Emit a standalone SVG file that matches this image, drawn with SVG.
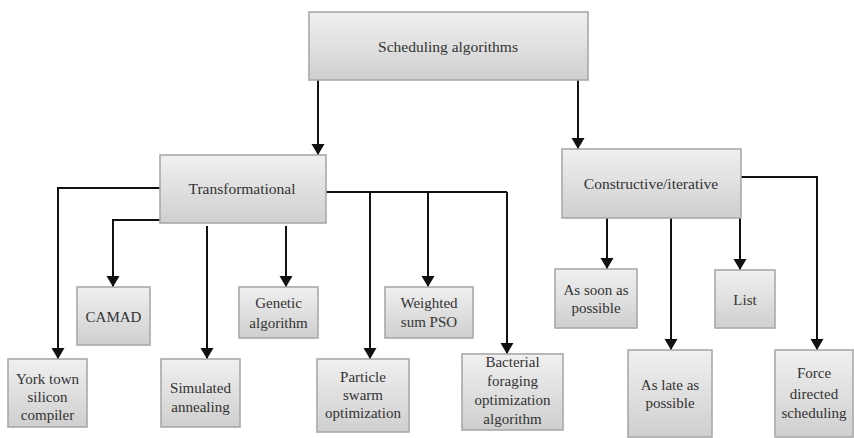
<svg xmlns="http://www.w3.org/2000/svg" width="854" height="438" viewBox="0 0 854 438">
  <defs>
    <linearGradient id="boxFill" x1="0" y1="0" x2="0" y2="1">
      <stop offset="0" stop-color="#f0f0f0"/>
      <stop offset="1" stop-color="#cfcfcf"/>
    </linearGradient>
    <marker id="arrow" markerUnits="userSpaceOnUse" markerWidth="14" markerHeight="14" refX="11" refY="6.5" orient="auto">
      <path d="M0,0 L11,6.5 L0,13 z" fill="#111"/>
    </marker>
  </defs>
  <style>
    .box { fill: url(#boxFill); stroke: #a9a9a9; stroke-width: 1.6; }
    text { font-family: 'Liberation Serif', 'DejaVu Serif', serif; font-size: 15px; fill: #333; text-anchor: middle; }
    .hdr { font-size: 15.5px; }
    .wire { fill: none; stroke: #111; stroke-width: 2; }
    .arr { marker-end: url(#arrow); }
  </style>
  <rect width="854" height="438" fill="#fff"/>

  <g id="connectors">
    <!-- root to the two families -->
    <path class="wire arr" d="M318,80 V155"/>
    <path class="wire arr" d="M578,80 V149"/>
    <!-- transformational branches -->
    <path class="wire arr" d="M160,188 H58 V359"/>
    <path class="wire arr" d="M160,220 H113 V287"/>
    <path class="wire arr" d="M207,226 V359"/>
    <path class="wire arr" d="M286,226 V287"/>
    <path class="wire" d="M326,192 H507"/>
    <path class="wire arr" d="M370,192 V359"/>
    <path class="wire arr" d="M428,192 V287"/>
    <path class="wire arr" d="M507,192 V354"/>
    <!-- constructive/iterative branches -->
    <path class="wire arr" d="M607,218 V269"/>
    <path class="wire arr" d="M671,215 V350"/>
    <path class="wire arr" d="M740,218 V270"/>
    <path class="wire arr" d="M741,177 H817 V350"/>
  </g>

  <g id="scheduling-algorithms">
    <rect class="box" x="309" y="12" width="279" height="68"/>
    <text class="hdr" x="448" y="52" font-family="Liberation Serif, serif">Scheduling algorithms</text>
  </g>
  <g id="transformational">
    <rect class="box" x="160" y="155" width="166" height="68"/>
    <text class="hdr" x="242" y="194">Transformational</text>
  </g>
  <g id="constructive-iterative">
    <rect class="box" x="562" y="149" width="179" height="69"/>
    <text class="hdr" x="651" y="189">Constructive/iterative</text>
  </g>

  <g id="york-town">
    <rect class="box" x="8" y="359" width="79" height="68"/>
    <text x="47.5" y="384">York town</text>
    <text x="47.5" y="402">silicon</text>
    <text x="47.5" y="420">compiler</text>
  </g>
  <g id="camad">
    <rect class="box" x="77" y="287" width="73" height="58"/>
    <text x="113.5" y="322">CAMAD</text>
  </g>
  <g id="simulated-annealing">
    <rect class="box" x="161" y="359" width="79" height="68"/>
    <text x="200.5" y="393">Simulated</text>
    <text x="200.5" y="412">annealing</text>
  </g>
  <g id="genetic-algorithm">
    <rect class="box" x="239" y="287" width="79" height="51"/>
    <text x="278.5" y="308">Genetic</text>
    <text x="278.5" y="328">algorithm</text>
  </g>
  <g id="particle-swarm">
    <rect class="box" x="317" y="359" width="92" height="73"/>
    <text x="363" y="382">Particle</text>
    <text x="363" y="400">swarm</text>
    <text x="363" y="418">optimization</text>
  </g>
  <g id="weighted-sum-pso">
    <rect class="box" x="385" y="287" width="88" height="51"/>
    <text x="429" y="308">Weighted</text>
    <text x="429" y="327">sum PSO</text>
  </g>
  <g id="bacterial-foraging">
    <rect class="box" x="462" y="354" width="101" height="76"/>
    <text x="512.5" y="367">Bacterial</text>
    <text x="512.5" y="386">foraging</text>
    <text x="512.5" y="405">optimization</text>
    <text x="512.5" y="424">algorithm</text>
  </g>

  <g id="as-soon-as-possible">
    <rect class="box" x="555" y="269" width="82" height="59"/>
    <text x="596" y="295">As soon as</text>
    <text x="596" y="313">possible</text>
  </g>
  <g id="as-late-as-possible">
    <rect class="box" x="628" y="350" width="84" height="87"/>
    <text x="670" y="390">As late as</text>
    <text x="670" y="408">possible</text>
  </g>
  <g id="list">
    <rect class="box" x="715" y="270" width="60" height="58"/>
    <text x="745" y="305">List</text>
  </g>
  <g id="force-directed">
    <rect class="box" x="775" y="350" width="78" height="87"/>
    <text x="814" y="378">Force</text>
    <text x="814" y="399">directed</text>
    <text x="814" y="418">scheduling</text>
  </g>
</svg>
